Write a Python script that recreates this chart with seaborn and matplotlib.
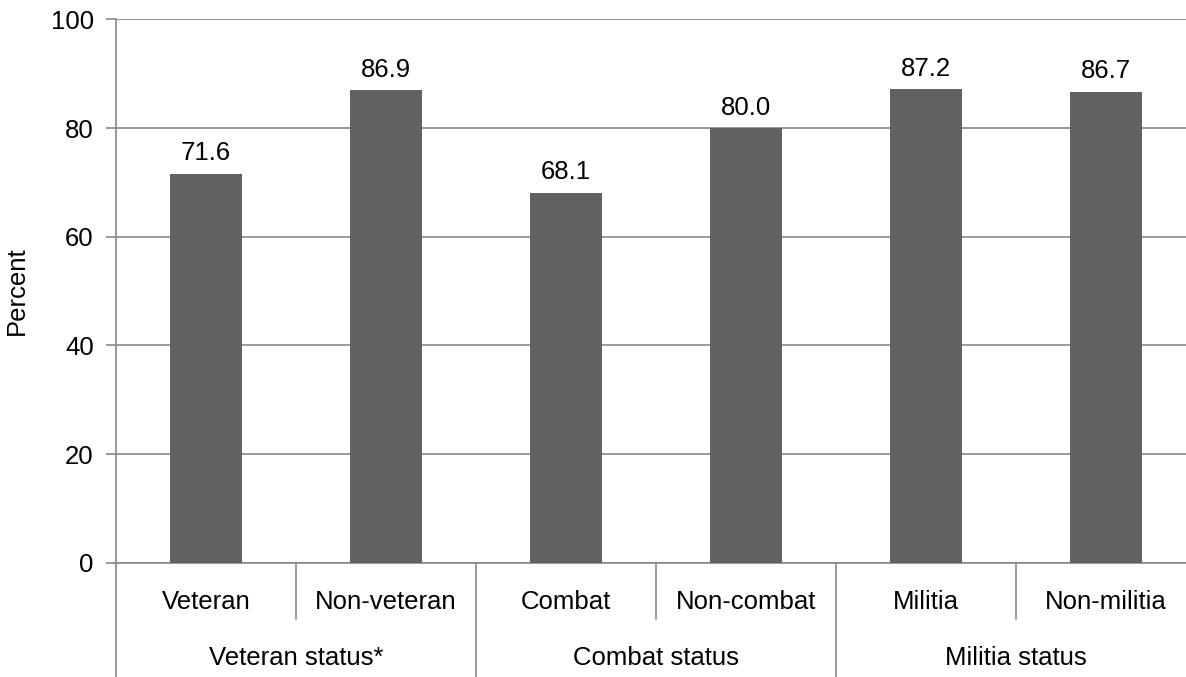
import matplotlib
matplotlib.use("Agg")
import matplotlib.pyplot as plt
from matplotlib.lines import Line2D
import seaborn as sns
import pandas as pd

# Share reporting each status, grouped by military background
categories = ["Veteran", "Non-veteran", "Combat", "Non-combat", "Militia", "Non-militia"]
values = [71.6, 86.9, 68.1, 80.0, 87.2, 86.7]
groups = ["Veteran status*", "Combat status", "Militia status"]
yticks = [0, 20, 40, 60, 80, 100]

sns.set_theme(style="white")
plt.rcParams["font.family"] = ["Liberation Sans", "DejaVu Sans"]
plt.rcParams["text.color"] = "black"
plt.rcParams["axes.labelcolor"] = "black"
plt.rcParams["ytick.color"] = "black"

FS = 18.5
W, H = 1186, 677
fig = plt.figure(figsize=(W / 100, H / 100), dpi=100)
x0, x1 = 116, 1196
ytop, ybot = 19.3, 562.8
ax = fig.add_axes([x0 / W, (H - ybot) / H, (x1 - x0) / W, (ybot - ytop) / H])

df = pd.DataFrame({"category": categories, "value": values})
sns.barplot(data=df, x="category", y="value", color="#616161", saturation=1,
            width=0.405, linewidth=0, edgecolor="none", ax=ax, zorder=3)

grid_c = "#878787"
ax.set_xlim(-0.5, len(categories) - 0.5)
ax.set_ylim(0, 100)
ax.set_yticks(yticks)
ax.set_yticklabels([str(t) for t in yticks], fontsize=FS, color="black")
ax.yaxis.grid(True, color=grid_c, linewidth=1.2)
ax.set_axisbelow(True)
ax.tick_params(axis="y", direction="out", length=7, width=1.2, color=grid_c, pad=9,
               left=True, labelcolor="black")
ax.tick_params(axis="x", bottom=False, labelbottom=False)
ax.set_xlabel("")
ax.set_ylabel("Percent", fontsize=FS, labelpad=16, color="black")
for side in ("top", "right"):
    ax.spines[side].set_visible(False)
for side in ("left", "bottom"):
    ax.spines[side].set_color(grid_c)
    ax.spines[side].set_linewidth(1.2)

# Value labels above the bars
for i, v in enumerate(values):
    ax.annotate(f"{v:.1f}", (i, v), xytext=(0, 6), textcoords="offset points",
                ha="center", va="bottom", fontsize=FS, color="black")

# Two-level category axis below the plot
tr = ax.get_xaxis_transform()
axh = ybot - ytop
y_inner = -(619 - ybot) / axh
y_outer = -(H + 5 - ybot) / axh
y_lab1 = -(602 - ybot) / axh
y_lab2 = -(658 - ybot) / axh

for i, c in enumerate(categories):
    ax.text(i, y_lab1, c, transform=tr, ha="center", va="center", fontsize=FS, color="black")
for k in range(len(categories) + 1):
    xb = k - 0.5
    yend = y_outer if k % 2 == 0 else y_inner
    ax.add_line(Line2D([xb, xb], [0, yend], transform=tr, color=grid_c,
                       linewidth=1.2, clip_on=False))
for g, name in enumerate(groups):
    ax.text(2 * g + 0.5, y_lab2, name, transform=tr, ha="center", va="center",
            fontsize=FS, color="black")

fig.savefig("out.png", dpi=100)
